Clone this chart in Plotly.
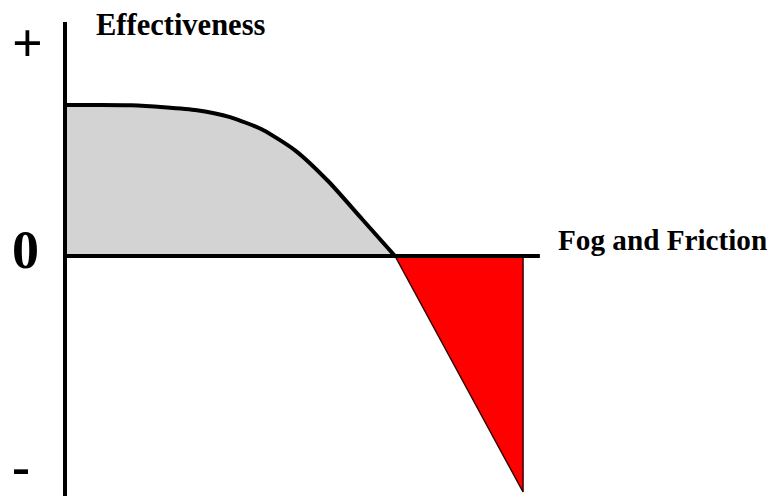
import plotly.graph_objects as go

# effectiveness curve (positive part)
fog = [0, 1, 2, 3, 4, 5, 6, 7, 8, 9, 10]
effect = [1.0, 1.0, 0.998, 0.985, 0.965, 0.92, 0.835, 0.695, 0.49, 0.245, 0.0]

# negative region (red triangle)
neg_fog = [10, 13.88, 13.88, 10]
neg_effect = [0, 0, -1.563, 0]

# axis extents
x_axis_end = 14.39
y_axis_top = 1.55
y_axis_bottom = -1.7

sign_labels = ['+', '0', '-']
sign_y = [1.41, 0.04, -1.40]
sign_x = [-1.15, -1.21, -1.33]

serif = 'Liberation Serif, Times New Roman, serif'

# page has an 8px body margin, so shift the ranges to compensate
off = 8
fig = go.Figure()
fig.add_trace(go.Scatter(x=fog, y=effect, mode='lines', fill='tozeroy',
                         fillcolor='#d3d3d3', line=dict(color='black', width=4, shape='spline', smoothing=0.6),
                         hoverinfo='skip', showlegend=False))
fig.add_trace(go.Scatter(x=neg_fog, y=neg_effect, mode='lines', fill='toself',
                         fillcolor='#ff0000', line=dict(color='#300', width=1.5),
                         hoverinfo='skip', showlegend=False))

# axes
fig.add_shape(type='line', x0=0, x1=0, y0=y_axis_bottom, y1=y_axis_top,
              line=dict(color='black', width=4), layer='above')
fig.add_shape(type='line', x0=0, x1=x_axis_end, y0=0, y1=0,
              line=dict(color='black', width=4), layer='above')

for lab, x, y in zip(sign_labels, sign_x, sign_y):
    fig.add_annotation(x=x, y=y, text=f'<b>{lab}</b>', showarrow=False,
                       font=dict(family=serif, size=54, color='black'))

fig.add_annotation(x=3.5, y=1.53, text='<b>Effectiveness</b>', showarrow=False,
                   font=dict(family=serif, size=30.5, color='black'))
fig.add_annotation(x=18.12, y=0.106, text='<b>Fog and Friction</b>', showarrow=False,
                   font=dict(family=serif, size=29.2, color='black'))

fig.update_layout(
    width=777, height=496,
    margin=dict(l=0, r=0, t=0, b=0),
    paper_bgcolor='white', plot_bgcolor='white',
    xaxis=dict(range=[-(65 - off) / 33, (777 - 65 + off) / 33], visible=False, fixedrange=True),
    yaxis=dict(range=[-(496 - 256 + off) / 151, (256 - off) / 151], visible=False, fixedrange=True),
)

fig.write_html("out.html")
